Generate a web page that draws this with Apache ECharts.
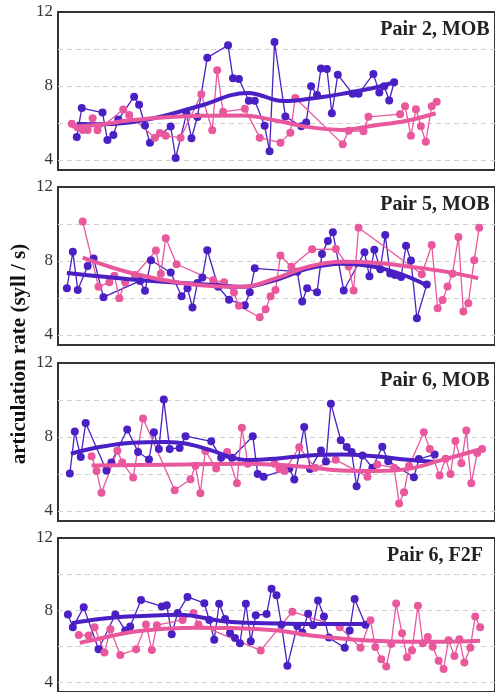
<!DOCTYPE html>
<html lang="en">
<head>
  <meta charset="UTF-8">
  <title>articulation rate</title>
  <style>
    html, body { margin: 0; padding: 0; background: #fff; }
  </style>
</head>
<body>
  <div id="main" style="width:495px;height:692px"></div>

  <script src="https://cdn.jsdelivr.net/npm/echarts@6/dist/echarts.min.js"></script>

  <script>
    // panel titles + y tick labels
    var panelTitles = ['Pair 2, MOB', 'Pair 5, MOB', 'Pair 6, MOB', 'Pair 6, F2F']
    var yTickLabels = [4, 8, 12]
    var yGridValues = [4, 6, 8, 10]

    // ---- Pair 2, MOB ----
    var p1PurpleT = [19, 24, 45, 50, 56, 61, 77, 82, 88, 93, 114, 119, 130, 135, 141, 151, 172, 177, 183, 193, 199, 209, 214, 219, 230, 246, 251, 256, 262, 266, 272, 277, 283, 298, 304, 319, 325, 330, 335, 340]
    var p1PurpleV = [5.23, 6.8, 6.56, 5.08, 5.35, 6.18, 7.42, 6.98, 5.86, 4.92, 5.8, 4.1, 6.49, 5.17, 6.32, 9.53, 10.2, 8.41, 8.38, 7.2, 7.2, 5.84, 4.47, 10.38, 6.34, 5.82, 6.02, 7.98, 7.51, 8.94, 8.92, 6.52, 8.61, 7.57, 7.57, 8.65, 7.64, 7.98, 7.21, 8.2]
    var p1PinkT = [14, 20, 25, 30, 35, 40, 66, 72, 98, 103, 109, 124, 145, 156, 161, 167, 189, 204, 225, 235, 240, 288, 294, 309, 314, 346, 351, 357, 362, 367, 372, 378, 383]
    var p1PinkV = [5.95, 5.75, 5.62, 5.62, 6.25, 5.6, 6.72, 6.42, 5.2, 5.45, 5.3, 5.2, 7.55, 5.6, 8.85, 6.6, 6.76, 5.2, 4.93, 5.46, 7.35, 4.85, 5.57, 5.55, 6.33, 6.47, 6.9, 5.3, 6.74, 5.82, 4.98, 6.9, 7.15]
    var p1PurpleTrendT = [19, 42, 92, 142, 192, 228, 254, 287, 320, 340]
    var p1PurpleTrendV = [5.95, 5.92, 6.2, 6.9, 7.62, 7.18, 7.3, 7.57, 7.9, 8.2]
    var p1PinkTrendT = [14, 42, 75, 142, 187, 220, 254, 287, 320, 354, 382]
    var p1PinkTrendV = [5.8, 5.9, 6.15, 6.38, 6.4, 6.13, 5.77, 5.62, 5.86, 6.13, 6.52]

    // ---- Pair 5, MOB ----
    var p2PurpleT = [9, 15, 20, 30, 36, 46, 83, 88, 94, 114, 125, 131, 136, 141, 146, 151, 162, 173, 189, 194, 199, 242, 247, 252, 262, 267, 273, 278, 289, 310, 315, 320, 326, 331, 336, 341, 347, 352, 357, 363, 373]
    var p2PurpleV = [6.52, 8.49, 6.43, 7.73, 8.13, 6.04, 6.92, 6.38, 8.04, 7.37, 6.09, 6.52, 5.48, 6.8, 7.1, 8.58, 6.6, 5.9, 5.6, 6.3, 7.6, 7.42, 5.8, 6.52, 6.3, 8.38, 9.08, 9.55, 6.4, 8.47, 7.17, 8.6, 7.55, 9.4, 7.32, 7.24, 7.13, 8.82, 8.02, 4.9, 6.72]
    var p2PinkT = [25, 41, 52, 57, 62, 68, 78, 99, 104, 109, 120, 157, 168, 178, 183, 204, 210, 215, 220, 225, 236, 257, 281, 294, 299, 304, 368, 378, 384, 389, 394, 399, 405, 410, 415, 421, 426]
    var p2PinkV = [10.13, 6.6, 6.85, 7.2, 5.98, 6.85, 7.24, 8.56, 7.3, 9.23, 7.82, 6.95, 6.85, 6.29, 5.57, 4.95, 5.39, 6.09, 6.43, 8.29, 7.68, 8.63, 8.64, 7.7, 6.4, 9.8, 7.28, 8.86, 5.44, 5.89, 6.61, 7.31, 9.3, 5.26, 5.71, 8.04, 9.8]
    var p2PurpleTrendT = [9, 92, 142, 187, 220, 254, 287, 320, 349, 372]
    var p2PurpleTrendV = [7.35, 6.92, 6.75, 6.6, 6.97, 7.6, 7.85, 7.68, 7.24, 6.7]
    var p2PinkTrendT = [25, 75, 125, 175, 187, 220, 254, 287, 320, 354, 392, 425]
    var p2PinkTrendV = [8.18, 7.33, 6.8, 6.6, 6.6, 7.06, 7.7, 7.95, 7.9, 7.7, 7.42, 7.06]

    // ---- Pair 6, MOB ----
    var p3PurpleT = [12, 17, 23, 28, 49, 54, 70, 81, 92, 97, 102, 107, 113, 123, 129, 155, 165, 176, 197, 202, 208, 234, 239, 249, 255, 266, 271, 276, 286, 292, 297, 302, 308, 318, 328, 334, 360, 365, 381]
    var p3PurpleV = [6.02, 8.29, 6.91, 8.75, 6.18, 6.62, 8.4, 7.18, 6.78, 8.25, 7.35, 10.02, 7.35, 7.4, 8.04, 7.76, 6.87, 6.87, 8.04, 6.0, 5.85, 6.29, 5.69, 8.53, 6.27, 7.27, 6.67, 9.8, 7.82, 7.45, 7.18, 5.33, 7.0, 6.33, 7.47, 6.69, 5.82, 6.8, 7.05]
    var p3PinkT = [34, 39, 44, 60, 65, 76, 86, 118, 134, 139, 144, 149, 160, 171, 181, 186, 192, 219, 224, 229, 244, 260, 281, 313, 323, 340, 345, 350, 355, 370, 376, 386, 392, 397, 402, 408, 413, 418, 424, 429]
    var p3PinkV = [6.95, 6.15, 4.98, 7.25, 6.62, 5.8, 9.0, 5.11, 5.71, 6.44, 4.95, 7.24, 6.29, 7.18, 5.49, 8.5, 6.55, 6.55, 6.27, 6.15, 7.44, 6.33, 6.76, 5.85, 6.51, 6.33, 4.4, 5.0, 6.42, 8.25, 7.35, 5.91, 6.82, 6.0, 7.78, 6.58, 8.35, 5.49, 7.13, 7.35]
    var p3PurpleTrendT = [13, 42, 75, 109, 129, 155, 175, 192, 220, 254, 287, 320, 354, 380]
    var p3PurpleTrendV = [7.09, 7.45, 7.69, 7.73, 7.64, 7.27, 6.9, 6.75, 6.82, 7.0, 7.05, 6.95, 6.76, 6.64]
    var p3PinkTrendT = [34, 109, 187, 220, 254, 287, 320, 354, 387, 429]
    var p3PinkTrendV = [6.45, 6.5, 6.55, 6.5, 6.36, 6.18, 6.15, 6.27, 6.73, 7.36]

    // ---- Pair 6, F2F ----
    var p4PurpleT = [10, 15, 26, 41, 58, 68, 73, 84, 105, 110, 115, 121, 131, 148, 153, 158, 163, 169, 174, 179, 184, 190, 195, 200, 211, 216, 221, 226, 232, 242, 247, 253, 258, 263, 269, 274, 290, 295, 300, 311]
    var p4PurpleV = [7.75, 7.05, 8.15, 5.82, 7.75, 6.87, 7.09, 8.56, 8.2, 8.27, 6.65, 7.84, 8.73, 8.38, 7.45, 6.35, 8.35, 7.5, 6.73, 6.45, 6.15, 8.35, 6.27, 7.71, 7.78, 9.18, 8.82, 7.18, 4.91, 7.11, 6.75, 7.8, 7.15, 8.53, 7.64, 6.47, 5.91, 6.87, 8.62, 7.18]
    var p4PinkT = [21, 31, 37, 47, 53, 63, 79, 89, 95, 100, 126, 137, 142, 205, 237, 285, 306, 316, 321, 327, 332, 337, 342, 348, 353, 358, 364, 369, 374, 379, 385, 390, 395, 401, 406, 411, 417, 422, 427]
    var p4PinkV = [6.62, 6.58, 7.04, 5.64, 6.93, 5.51, 5.82, 7.2, 5.78, 7.16, 7.45, 7.84, 7.2, 5.76, 7.91, 7.05, 5.91, 7.44, 5.95, 5.27, 4.87, 6.11, 8.36, 6.71, 5.38, 5.76, 8.24, 6.16, 6.51, 5.96, 5.18, 4.73, 6.33, 5.45, 6.38, 5.09, 5.91, 7.64, 7.05]
    var p4PurpleTrendT = [14, 42, 75, 109, 122, 172, 222, 311]
    var p4PurpleTrendV = [7.27, 7.5, 7.65, 7.72, 7.74, 7.35, 7.26, 7.22]
    var p4PinkTrendT = [22, 42, 75, 109, 142, 175, 222, 254, 287, 320, 354, 387, 427]
    var p4PinkTrendV = [6.18, 6.42, 6.78, 6.96, 7.02, 7.0, 6.86, 6.6, 6.42, 6.29, 6.24, 6.24, 6.29]

    var panels = [
      [p1PurpleT, p1PurpleV, p1PinkT, p1PinkV, p1PurpleTrendT, p1PurpleTrendV, p1PinkTrendT, p1PinkTrendV],
      [p2PurpleT, p2PurpleV, p2PinkT, p2PinkV, p2PurpleTrendT, p2PurpleTrendV, p2PinkTrendT, p2PinkTrendV],
      [p3PurpleT, p3PurpleV, p3PinkT, p3PinkV, p3PurpleTrendT, p3PurpleTrendV, p3PinkTrendT, p3PinkTrendV],
      [p4PurpleT, p4PurpleV, p4PinkT, p4PinkV, p4PurpleTrendT, p4PurpleTrendV, p4PinkTrendT, p4PinkTrendV]
    ]

    var purple = '#4A1FC4'
    var pink = '#E9579D'
    var serif = '"Liberation Serif", "Times New Roman", serif'
    var panelTops = [12, 187, 363, 538]
    var panelHeight = 158

    function pairs(t, v) {
      return t.map(function (x, i) { return [x, v[i]] })
    }

    var grids = [], xAxes = [], yAxes = [], series = [], graphics = []

    panels.forEach(function (p, i) {
      grids.push({
        left: 58, top: panelTops[i], width: 442, height: panelHeight,
        show: true, borderColor: '#333', borderWidth: 2, backgroundColor: 'transparent'
      })
      xAxes.push({ type: 'value', gridIndex: i, min: 0, max: 442, show: false })
      yAxes.push({
        type: 'value', gridIndex: i, min: 3.45, max: 12,
        axisLine: { show: false }, axisTick: { show: false }, splitLine: { show: false },
        axisLabel: {
          customValues: yTickLabels, margin: 5,
          fontFamily: serif, fontSize: 17, color: '#333'
        }
      })
      // dashed grid lines (kept under the data)
      series.push({
        type: 'line', xAxisIndex: i, yAxisIndex: i, data: [], z: 0, silent: true,
        markLine: {
          z: 0, silent: true, symbol: 'none', label: { show: false },
          lineStyle: { color: '#cfcfcf', type: [5, 4], width: 1 },
          data: yGridValues.map(function (v) { return { yAxis: v } })
        }
      })
      var dotStyle = function (c) {
        return {
          type: 'line', xAxisIndex: i, yAxisIndex: i,
          symbol: 'circle', symbolSize: 8, showSymbol: true, showAllSymbol: true,
          lineStyle: { color: c, width: 1.3 },
          itemStyle: { color: c, borderWidth: 0 },
          emphasis: { disabled: true },
          animation: false, z: 2
        }
      }
      var s1 = dotStyle(purple); s1.data = pairs(p[0], p[1])
      var s2 = dotStyle(pink); s2.data = pairs(p[2], p[3])
      series.push(s1, s2)
      series.push({
        type: 'line', xAxisIndex: i, yAxisIndex: i, data: pairs(p[4], p[5]),
        smooth: 0.4, showSymbol: false, symbol: 'none', lineStyle: { color: purple, width: 4 }, z: 3, animation: false
      })
      series.push({
        type: 'line', xAxisIndex: i, yAxisIndex: i, data: pairs(p[6], p[7]),
        smooth: 0.4, showSymbol: false, symbol: 'none', lineStyle: { color: pink, width: 4 }, z: 4, animation: false
      })
      graphics.push({
        type: 'text', x: 435, y: panelTops[i] + 18,
        style: {
          text: panelTitles[i], font: 'bold 20px ' + serif, fill: '#222',
          textAlign: 'center', textVerticalAlign: 'middle'
        }
      })
    })

    graphics.push({
      type: 'text', x: 20, y: 354, rotation: Math.PI / 2,
      style: {
        text: 'articulation rate (syll / s)', font: 'bold 21px ' + serif, fill: '#111',
        textAlign: 'center', textVerticalAlign: 'middle'
      }
    })

    var myChart = echarts.init(document.getElementById('main'))
    myChart.setOption({
      animation: false,
      grid: grids,
      xAxis: xAxes,
      yAxis: yAxes,
      series: series,
      graphic: graphics
    })
  </script>
</body>
</html>
